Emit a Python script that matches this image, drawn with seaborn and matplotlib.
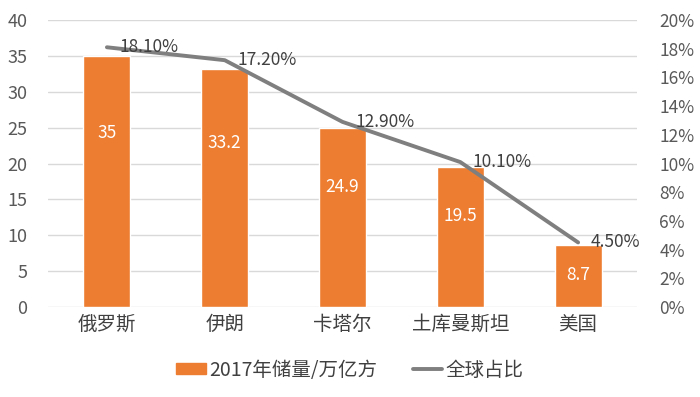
import pandas as pd
import numpy as np
import matplotlib.pyplot as plt
import seaborn as sns
from matplotlib.patches import Patch
from matplotlib.lines import Line2D

countries = ["俄罗斯", "伊朗", "卡塔尔", "土库曼斯坦", "美国"]
reserves = [35, 33.2, 24.9, 19.5, 8.7]
share = [18.1, 17.2, 12.9, 10.1, 4.5]
share_labels = ["18.10%", "17.20%", "12.90%", "10.10%", "4.50%"]

sns.set_theme(style="white")
plt.rcParams['font.family'] = ['Noto Sans CJK SC', 'DejaVu Sans']

df = pd.DataFrame({"country": countries, "reserves": reserves, "share": share})
df["pos"] = np.arange(len(df))

orange = "#ED7D31"
gray = "#7f7f7f"
text_col = "#595959"

fig = plt.figure(figsize=(7, 3.97), dpi=100)
ax = fig.add_axes([0.0686, 0.2267, 0.8414, 0.7229])

sns.barplot(data=df, x="country", y="reserves", color=orange, width=0.4,
            saturation=1, ax=ax, zorder=2)
ax.set_ylim(0, 40)
ax.set_yticks(range(0, 41, 5))
ax.set_xlim(-0.5, len(df) - 0.5)
ax.grid(axis="y", color="#d9d9d9", linewidth=1, zorder=0)
ax.set_axisbelow(True)
for s in ax.spines.values():
    s.set_visible(False)
ax.set_xlabel("")
ax.set_ylabel("")
ax.tick_params(axis="y", labelsize=13, colors=text_col, pad=15, length=0)
ax.tick_params(axis="x", labelsize=14, colors="#404040", pad=5, length=0)

for i, v in enumerate(reserves):
    ax.text(i, 0.75 * v - 2, f"{v:g}", ha="center", va="center",
            color="white", fontsize=12.5)

ax2 = ax.twinx()
sns.lineplot(data=df, x="pos", y="share", color=gray, linewidth=2.8, ax=ax2)
ax2.set_ylim(0, 20)
ax2.set_yticks(range(0, 21, 2))
ax2.set_yticklabels([f"{t}%" for t in range(0, 21, 2)])
ax2.set_xlim(-0.5, len(df) - 0.5)
for s in ax2.spines.values():
    s.set_visible(False)
ax2.set_ylabel("")
ax2.set_xlabel("")
ax2.tick_params(axis="y", labelsize=12.5, colors=text_col, pad=16, length=0)
for i, (v, lab) in enumerate(zip(share, share_labels)):
    ax2.annotate(lab, (i, v), xytext=(9, 0), textcoords="offset points",
                 ha="left", va="center", fontsize=12.5, color="#404040")

handles = [Patch(facecolor=orange, edgecolor=orange),
           Line2D([0], [0], color=gray, linewidth=2.8)]
fig.legend(handles, ["2017年储量/万亿方", "全球占比"], loc="center",
           bbox_to_anchor=(0.5, 0.068), ncol=2, frameon=False, fontsize=14,
           handlelength=1.5, handleheight=0.5, handletextpad=0.2,
           columnspacing=1.8, labelcolor="#404040")

fig.savefig("out.png", dpi=100)
